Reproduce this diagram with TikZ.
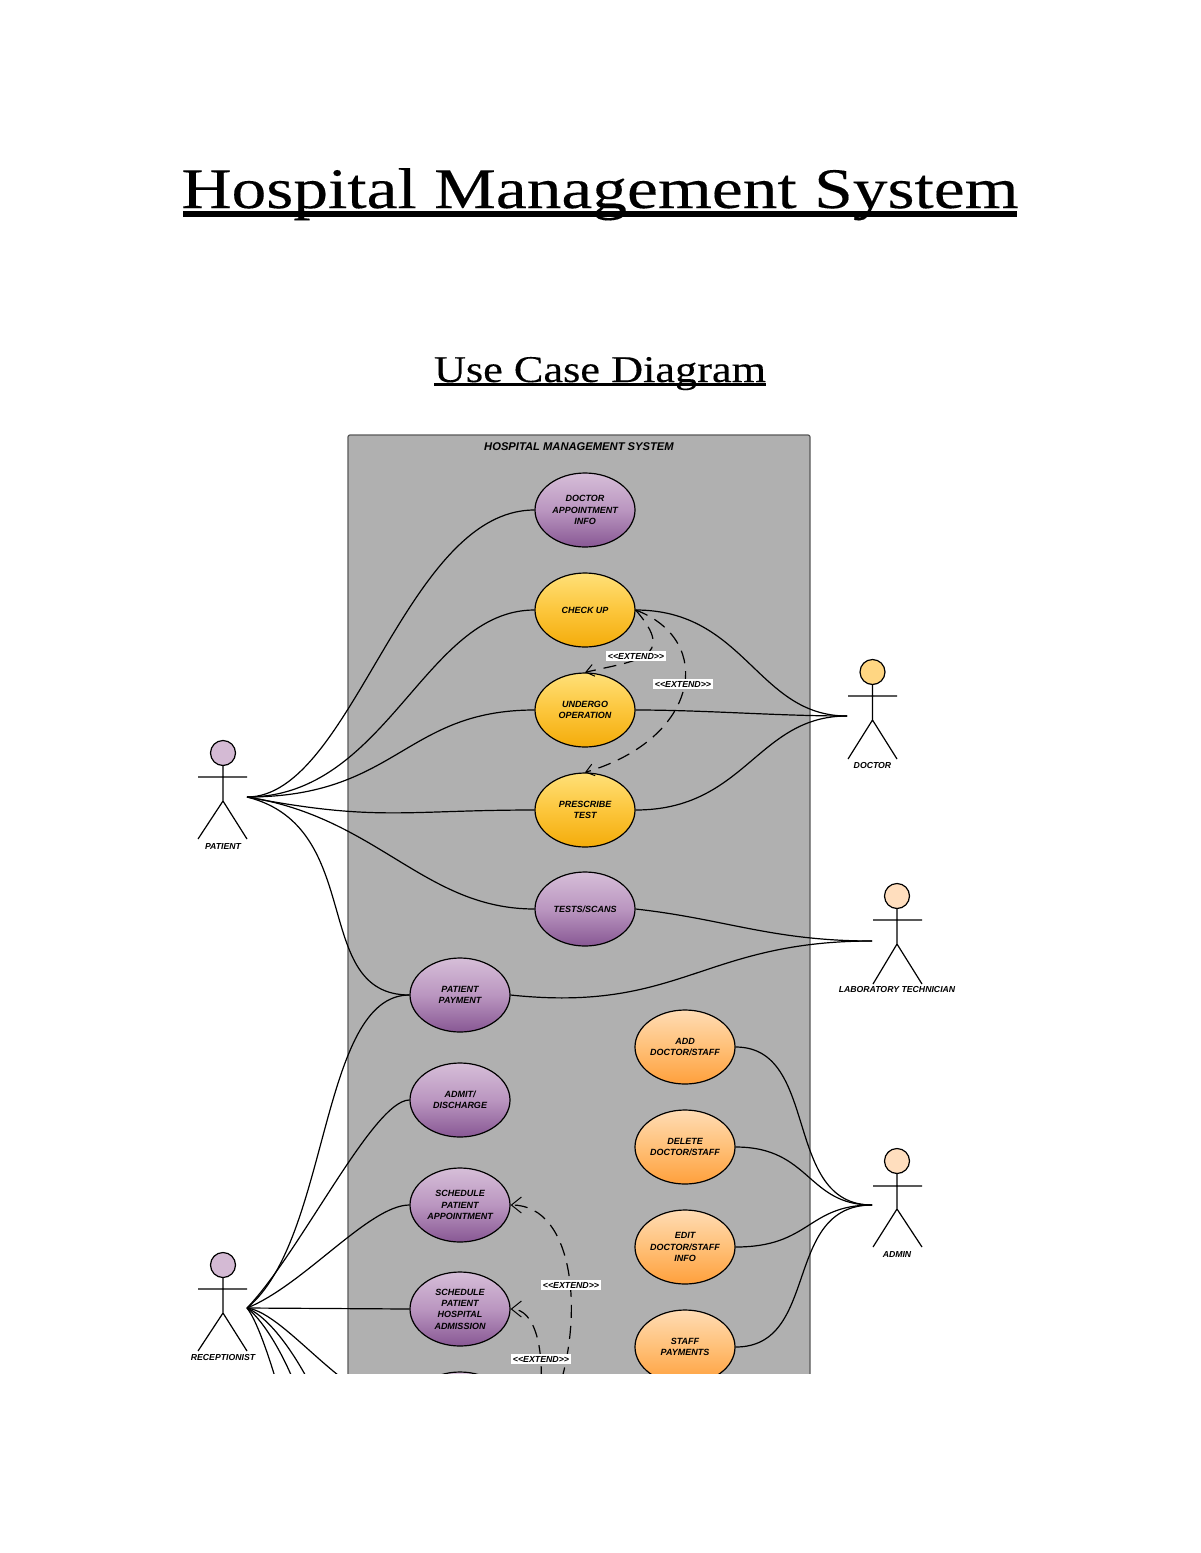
\documentclass[tikz,border=0pt]{standalone}
\usepackage{fontspec}
\usetikzlibrary{arrows.meta,shapes.geometric}
\setmainfont{Liberation Serif}
\newfontfamily\headfont[FakeBold=0.2]{Liberation Serif}
\newfontfamily\sketchfont{Liberation Sans}
\definecolor{framegray}{RGB}{176,176,176}
\tikzset{
  usecase/.style={ellipse,draw=black,line width=0.6pt,minimum width=50pt,minimum height=37pt,inner sep=0pt,
    align=center,font=\sketchfont\bfseries\itshape\fontsize{4.5}{5.7}\selectfont},
  purplecase/.style={usecase,top color=purpleA,bottom color=purpleB,middle color=purpleM},
  yellowcase/.style={usecase,top color=yellowA,bottom color=yellowB,middle color=yellowM},
  orangecase/.style={usecase,top color=orangeA,bottom color=orangeB,middle color=orangeM},
  assoc/.style={line width=0.6pt,black},
  extendline/.style={line width=0.6pt,black,dash pattern=on 6.5pt off 4pt,-{Straight Barb[length=5pt,width=8pt,line width=0.5pt]}},
  extendsmall/.style={extendline,-{Straight Barb[length=4pt,width=6pt,line width=0.5pt]}},
  extendtag/.style={fill=white,inner xsep=1pt,inner ysep=1pt,font=\sketchfont\bfseries\itshape\fontsize{4.4}{5}\selectfont},
  actorhead/.style={circle,draw=black,line width=0.6pt,minimum size=12.5pt,inner sep=0pt},
  actorlimb/.style={line width=0.6pt,black},
  actorname/.style={font=\sketchfont\bfseries\itshape\fontsize{4.35}{5}\selectfont,inner sep=0pt},
  underrule/.style={black}
}
\definecolor{purpleA}{RGB}{214,190,216}
\definecolor{purpleM}{RGB}{186,150,192}
\definecolor{purpleB}{RGB}{136,88,148}
\definecolor{yellowA}{RGB}{255,224,120}
\definecolor{yellowM}{RGB}{252,198,60}
\definecolor{yellowB}{RGB}{244,172,10}
\definecolor{orangeA}{RGB}{255,220,180}
\definecolor{orangeM}{RGB}{255,192,120}
\definecolor{orangeB}{RGB}{255,160,60}
\definecolor{skinhead}{RGB}{255,222,190}
\definecolor{mauvehead}{RGB}{212,186,212}
\definecolor{goldhead}{RGB}{255,214,130}
\begin{document}
\begin{tikzpicture}[x=0.5pt,y=-0.5pt]
\useasboundingbox (0,0) rectangle (1200,1553);
\fill[white] (0,0) rectangle (1200,1553);

% Headings
\node[inner sep=0pt,anchor=base] (maintitle) at (600,208)
  {\scalebox{1.21}[1]{\headfont\fontsize{28.7}{30}\selectfont Hospital Management System}};
\draw[underrule,line width=3pt] (183,213.5) -- (1017,213.5);
\node[inner sep=0pt,anchor=base] (subtitle) at (600,382)
  {\scalebox{1.172}[1]{\headfont\fontsize{18.9}{22}\selectfont Use Case Diagram}};
\draw[underrule,line width=1.5pt] (434,384.5) -- (766,384.5);

% The printed page cuts the drawing off at its lower edge
\begin{scope}
\clip (0,0) rectangle (1200,1373);

\draw[line width=0.6pt,draw=black!65,fill=framegray,rounded corners=1pt] (348,435) rectangle (810,1400);
\node[font=\sketchfont\bfseries\itshape\fontsize{5.6}{6}\selectfont,inner sep=0pt] (systemname) at (579,447) {HOSPITAL MANAGEMENT SYSTEM};

% Use cases
\node[purplecase] (info) at (585,510) {DOCTOR\\APPOINTMENT\\INFO};
\node[yellowcase] (check) at (585,610) {CHECK UP};
\node[yellowcase] (operation) at (585,710) {UNDERGO\\OPERATION};
\node[yellowcase] (prescribe) at (585,810) {PRESCRIBE\\TEST};
\node[purplecase] (tests) at (585,909) {TESTS/SCANS};
\node[purplecase] (payment) at (460,995) {PATIENT\\PAYMENT};
\node[purplecase] (admit) at (460,1100) {ADMIT/\\DISCHARGE};
\node[purplecase] (schedappt) at (460,1205) {SCHEDULE\\PATIENT\\APPOINTMENT};
\node[purplecase] (schedadm) at (460,1309) {SCHEDULE\\PATIENT\\HOSPITAL\\ADMISSION};
\node[purplecase] (hidden) at (460,1409) {};
\node[orangecase] (add) at (685,1047) {ADD\\DOCTOR/STAFF};
\node[orangecase] (delete) at (685,1147) {DELETE\\DOCTOR/STAFF};
\node[orangecase] (edit) at (685,1247) {EDIT\\DOCTOR/STAFF\\INFO};
\node[orangecase] (staff) at (685,1347) {STAFF\\PAYMENTS};

% Actors
\node[actorhead,fill=mauvehead] (patient) at (223,753) {};
\draw[actorlimb] (patient.south) -- (223,801) (198,777) -- (247,777) (198,839) -- (223,801) -- (247,839);
\node[actorname] (patientname) at (223,846) {PATIENT};
\coordinate (patienthand) at (247,797);

\node[actorhead,fill=goldhead] (doctor) at (872.5,672) {};
\draw[actorlimb] (doctor.south) -- (872.5,720) (848,696) -- (897,696) (848,759) -- (872.5,720) -- (897,759);
\node[actorname] (doctorname) at (872.5,765) {DOCTOR};
\coordinate (doctorhand) at (847,716);

\node[actorhead,fill=skinhead] (lab) at (897,896) {};
\draw[actorlimb] (lab.south) -- (897,944) (873,920) -- (922,920) (873,984) -- (897,944) -- (922,984);
\node[actorname] (labname) at (897,989) {LABORATORY TECHNICIAN};
\coordinate (labhand) at (872,941);

\node[actorhead,fill=skinhead] (admin) at (897,1161) {};
\draw[actorlimb] (admin.south) -- (897,1209) (873,1186) -- (922,1186) (873,1247) -- (897,1209) -- (922,1247);
\node[actorname] (adminname) at (897,1254) {ADMIN};
\coordinate (adminhand) at (872,1205);

\node[actorhead,fill=mauvehead] (reception) at (223,1265) {};
\draw[actorlimb] (reception.south) -- (223,1313) (198,1289) -- (247,1289) (198,1351) -- (223,1313) -- (247,1351);
\node[actorname] (receptionname) at (223,1357) {RECEPTIONIST};
\coordinate (receptionhand) at (247,1308);

% Associations of the patient
\draw[assoc] (patienthand) .. controls +(105,0) and +(-130,0) .. (info.west);
\draw[assoc] (patienthand) .. controls +(140,0) and +(-110,0) .. (check.west);
\draw[assoc] (patienthand) .. controls +(150,0) and +(-130,0) .. (operation.west);
\draw[assoc] (patienthand) .. controls +(130,25) and +(-130,0) .. (prescribe.west);
\draw[assoc] (patienthand) .. controls +(130,20) and +(-110,0) .. (tests.west);
\draw[assoc] (patienthand) .. controls +(120,30) and +(-100,0) .. (payment.west);

% Associations of the doctor
\draw[assoc] (check.east) .. controls +(110,0) and +(-90,0) .. (doctorhand);
\draw[assoc] (operation.east) .. controls +(70,0) and +(-70,0) .. (doctorhand);
\draw[assoc] (prescribe.east) .. controls +(110,0) and +(-90,0) .. (doctorhand);

% Associations of the laboratory technician
\draw[assoc] (tests.east) .. controls +(90,10) and +(-100,0) .. (labhand);
\draw[assoc] (payment.east) .. controls +(170,18) and +(-170,0) .. (labhand);

% Associations of the admin
\draw[assoc] (add.east) .. controls +(85,0) and +(-90,0) .. (adminhand);
\draw[assoc] (delete.east) .. controls +(75,0) and +(-65,0) .. (adminhand);
\draw[assoc] (edit.east) .. controls +(75,0) and +(-65,0) .. (adminhand);
\draw[assoc] (staff.east) .. controls +(85,0) and +(-90,0) .. (adminhand);

% Associations of the receptionist
\draw[assoc] (receptionhand) .. controls +(83,-68) and +(-90,0) .. (payment.west);
\draw[assoc] (receptionhand) .. controls +(53,-55) and +(-36,0) .. (admit.west);
\draw[assoc] (receptionhand) .. controls +(57,-23) and +(-40,0) .. (schedappt.west);
\draw[assoc] (receptionhand) -- (schedadm.west);
\draw[assoc] (receptionhand) .. controls +(40,5) and +(-60,0) .. (hidden.west);
\coordinate (lowerA) at (283,1405);
\coordinate (lowerB) at (302,1405);
\coordinate (lowerC) at (320,1405);
\draw[assoc] (receptionhand) .. controls +(12,15) and +(-8,-30) .. (lowerA);
\draw[assoc] (receptionhand) .. controls +(20,15) and +(-10,-35) .. (lowerB);
\draw[assoc] (receptionhand) .. controls +(28,12) and +(-15,-35) .. (lowerC);

% Extend relations
\draw[extendsmall] (check.east) .. controls +(43,49) and +(50,-12) .. (operation.north);
\draw[extendsmall] (check.east) .. controls +(80,30) and +(115,-34) .. (prescribe.north);
\coordinate (lowercaseA) at (555,1400);
\coordinate (lowercaseB) at (540,1400);
\draw[extendline] (lowercaseA) .. controls +(30,-80) and +(65,0) .. (schedappt.east);
\draw[extendline] (lowercaseB) .. controls +(5,-50) and +(25,0) .. (schedadm.east);

\node[extendtag] (tagA) at (636,656) {<{}<EXTEND>{}>};
\node[extendtag] (tagB) at (683,684) {<{}<EXTEND>{}>};
\node[extendtag] (tagC) at (571,1285) {<{}<EXTEND>{}>};
\node[extendtag] (tagD) at (541,1359) {<{}<EXTEND>{}>};
\end{scope}
\end{tikzpicture}
\end{document}
